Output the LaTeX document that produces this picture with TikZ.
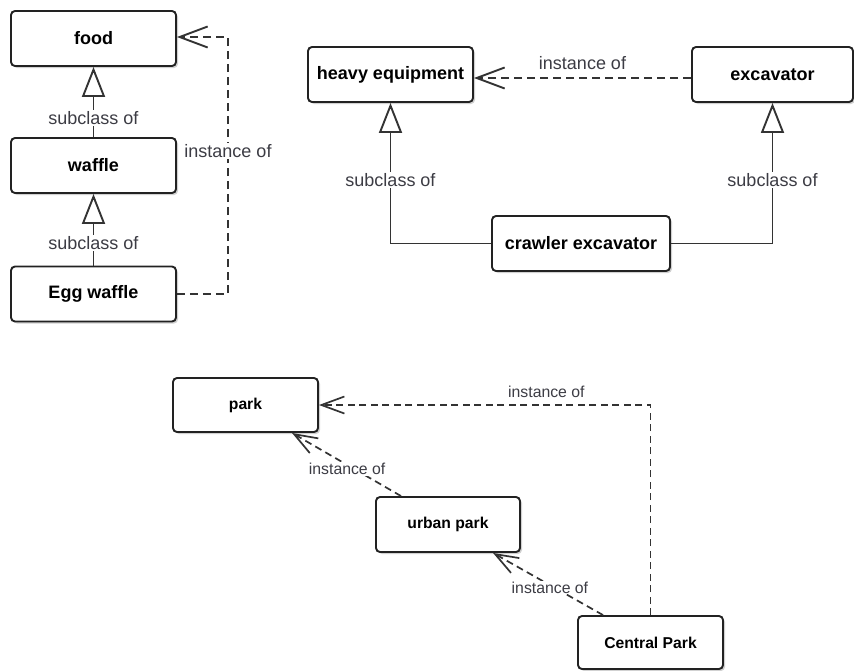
\documentclass[tikz,border=0pt]{standalone}
\usepackage{fontspec}
\setmainfont{Liberation Sans}
\usetikzlibrary{arrows.meta,shadows}
\definecolor{boxc}{HTML}{222222}
\definecolor{linec}{HTML}{333333}
\definecolor{labc}{HTML}{3C3C44}
\begin{document}
\begin{tikzpicture}[x=1pt,y=-1pt,
  boxbase/.style={draw=boxc, line width=1.9pt, rounded corners=4pt, fill=white, text=black, inner sep=0pt,
    drop shadow={shadow xshift=2pt, shadow yshift=-2pt, opacity=0.18, fill=black}},
  box/.style={boxbase, font=\bfseries\fontsize{18}{20}\selectfont, minimum width=165pt, minimum height=55pt},
  sbox/.style={boxbase, font=\bfseries\fontsize{15.7}{18}\selectfont, minimum width=145pt, minimum height=54pt},
  sub/.style={draw=linec, line width=1.9pt, -{Triangle[open, length=30pt, width=23pt]}},
  inst/.style={draw=linec, line width=1.9pt, dash pattern=on 8pt off 5pt, -{Straight Barb[length=28pt, width=21pt]}},
  sinst/.style={draw=linec, line width=1.7pt, dash pattern=on 7pt off 4.5pt, -{Straight Barb[length=23pt, width=17pt]}},
  lbl/.style={fill=white, text=labc, font=\fontsize{18}{20}\selectfont, inner sep=1.5pt},
  lblnf/.style={text=labc, font=\fontsize{18}{20}\selectfont, inner sep=1pt},
  slbl/.style={fill=white, text=labc, font=\fontsize{15.8}{18}\selectfont, inner sep=1pt},
  slblnf/.style={text=labc, font=\fontsize{15.8}{18}\selectfont, inner sep=1pt}
]
\useasboundingbox (0,0) rectangle (854,670);

% food group
\node[box] (food) at (93.5,38.5) {food};
\node[box] (waffle) at (93.5,165.5) {waffle};
\node[box] (egg) at (93.5,294) {Egg waffle};
\draw[sub] (waffle.north) -- node[lbl, pos=0.27] {subclass of} (food.south);
\draw[sub] (egg.north) -- node[lbl, pos=0.32] {subclass of} (waffle.south);
\coordinate (f1) at (228,294);
\coordinate (f2) at (228,37);
\draw[inst] (egg.east) -- (f1) -- node[lbl, pos=0.556] {instance of} (f2) -- (f2 -| food.east);

% equipment group
\node[box] (heavy) at (390.5,74.5) {heavy equipment};
\node[box, minimum width=161pt] (exc) at (772.5,74.5) {excavator};
\node[box, minimum width=178pt] (crawl) at (581,243.5) {crawler excavator};
\draw[sub] (crawl.west) -| node[lbl, pos=0.727] {subclass of} (heavy.south);
\draw[sub] (crawl.east) -| node[lbl, pos=0.727] {subclass of} (exc.south);
\draw[inst] ([yshift=-3.5pt]exc.west) -- node[lblnf, pos=0.5, yshift=15pt] {instance of} ([yshift=-3.5pt]heavy.east);

% park group
\node[sbox] (park) at (245.5,405) {park};
\node[sbox, minimum width=144pt, minimum height=55pt] (urban) at (448,524.5) {urban park};
\node[sbox, minimum height=53pt] (central) at (650.5,642.5) {Central Park};
\coordinate (p1) at (650.5,405);
\draw[sinst] (central.north) -- (p1) -- node[slblnf, pos=0.314, yshift=13pt] {instance of} (park.east);
\draw[sinst] ([xshift=-47pt]urban.north) -- node[slbl, pos=0.43, xshift=-7pt] {instance of} ([xshift=46.5pt]park.south);
\draw[sinst] ([xshift=-47.5pt]central.north) -- node[slbl, pos=0.446, xshift=-4pt] {instance of} ([xshift=45pt]urban.south);
\end{tikzpicture}
\end{document}
